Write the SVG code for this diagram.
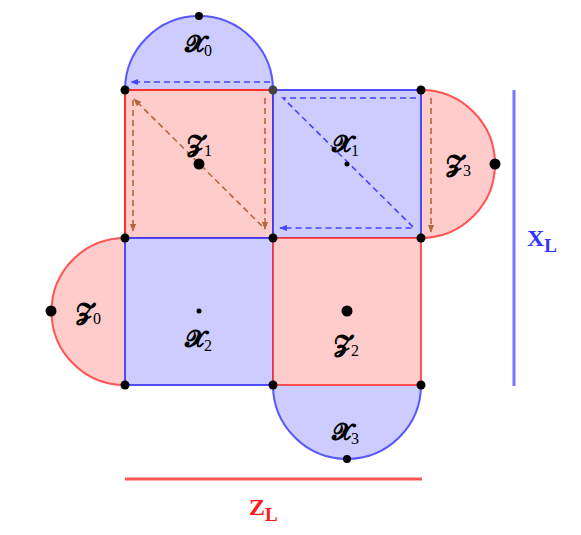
<svg xmlns="http://www.w3.org/2000/svg" width="581" height="535" viewBox="0 0 581 535">
<style>
.rf{fill:#ffcccc}
.bf{fill:#ccccff}
.rs{stroke:#ff2e2e;stroke-width:2;fill:none}
.bs{stroke:#3333ff;stroke-width:2;fill:none}
.dot{fill:#000}
.lbl{font-family:"DejaVu Serif","Liberation Serif",serif;font-size:24px;font-weight:bold;fill:#000}
.sub{font-family:"Liberation Serif",serif;font-size:16px;font-weight:normal}
.bd{stroke:#4444ff;stroke-width:1.6;stroke-dasharray:6,4;fill:none}
.br{stroke:#b5673c;stroke-width:1.6;stroke-dasharray:6,4;fill:none}
.lt{font-family:"Liberation Serif",serif;font-weight:bold;font-size:24px}
</style>
<defs>
<marker id="ab" viewBox="0 0 10 10" refX="9" refY="5" markerWidth="8" markerHeight="8" orient="auto" markerUnits="userSpaceOnUse"><path d="M0,1 L10,5 L0,9 Z" fill="#4444ff"/></marker>
<marker id="ar" viewBox="0 0 10 10" refX="9" refY="5" markerWidth="8" markerHeight="8" orient="auto" markerUnits="userSpaceOnUse"><path d="M0,1 L10,5 L0,9 Z" fill="#b5673c"/></marker>
</defs>
<g id="X0"><path d="M125,90 A74,74 0 0 1 273,90 Z" class="bf"/><path d="M125,90 A74,74 0 0 1 273,90" class="bs" stroke-opacity="0.8"/></g>
<g id="Z3"><path d="M421,90 A74,74 0 0 1 421,238 Z" class="rf"/><path d="M421,90 A74,74 0 0 1 421,238" class="rs" stroke-opacity="0.8"/></g>
<g id="Z0"><path d="M125,238 A73.5,73.5 0 0 0 125,385 Z" class="rf"/><path d="M125,238 A73.5,73.5 0 0 0 125,385" class="rs" stroke-opacity="0.8"/></g>
<g id="X3"><path d="M273,385 A74,74 0 0 0 421,385 Z" class="bf"/><path d="M273,385 A74,74 0 0 0 421,385" class="bs" stroke-opacity="0.8"/></g>
<g id="Z1"><rect x="125" y="90" width="148" height="148" class="rf"/><rect x="125" y="90" width="148" height="148" class="rs"/></g>
<g id="X1"><rect x="273" y="90" width="148" height="148" class="bf"/><rect x="273" y="90" width="148" height="148" class="bs" stroke-opacity="0.85"/></g>
<g id="X2"><rect x="125" y="238" width="148" height="147" class="bf"/><rect x="125" y="238" width="148" height="147" class="bs" stroke-opacity="0.85"/></g>
<g id="Z2"><rect x="273" y="238" width="148" height="147" class="rf"/><rect x="273" y="238" width="148" height="147" class="rs" stroke-opacity="0.8"/></g>
<g id="connectors">
<path d="M270,82 L131,82" class="bd" marker-end="url(#ab)"/>
<path d="M416,98 L283,98 L414,228 L280,228" class="bd" marker-end="url(#ab)"/>
<path d="M265,98 L265,229" class="br" marker-end="url(#ar)"/>
<path d="M262,226 L134,99" class="br" marker-end="url(#ar)"/>
<path d="M133,100 L133,231" class="br" marker-end="url(#ar)"/>
<path d="M431,98 L431,232" class="br" marker-end="url(#ar)"/>
</g>
<g id="dots">
<circle cx="125" cy="90" r="4.5" class="dot"/>
<circle cx="273" cy="90" r="4.5" fill="#444"/>
<circle cx="421" cy="90" r="4.5" class="dot"/>
<circle cx="125" cy="238" r="4.5" class="dot"/>
<circle cx="273" cy="238" r="4.5" class="dot"/>
<circle cx="421" cy="238" r="4.5" class="dot"/>
<circle cx="125" cy="385" r="4.5" class="dot"/>
<circle cx="273" cy="385" r="4.5" class="dot"/>
<circle cx="421" cy="385" r="4.5" class="dot"/>
<circle cx="199" cy="16" r="4" class="dot"/>
<circle cx="495" cy="164" r="5.5" class="dot"/>
<circle cx="51" cy="311" r="5.5" class="dot"/>
<circle cx="347" cy="459" r="4" class="dot"/>
<circle cx="199" cy="164" r="5.5" class="dot"/>
<circle cx="347" cy="311" r="5.5" class="dot"/>
<circle cx="347" cy="164" r="2.5" class="dot"/>
<circle cx="199" cy="311" r="2.5" class="dot"/>
</g>
<g id="labels">
<text x="185" y="52" class="lbl">𝓧<tspan class="sub" dy="4">0</tspan></text>
<text x="187" y="152" class="lbl">𝓩<tspan class="sub" dy="4">1</tspan></text>
<text x="332" y="152" class="lbl">𝓧<tspan class="sub" dy="4">1</tspan></text>
<text x="446" y="172" class="lbl">𝓩<tspan class="sub" dy="4">3</tspan></text>
<text x="76" y="320" class="lbl">𝓩<tspan class="sub" dy="4">0</tspan></text>
<text x="185" y="347" class="lbl">𝓧<tspan class="sub" dy="4">2</tspan></text>
<text x="334" y="352" class="lbl">𝓩<tspan class="sub" dy="4">2</tspan></text>
<text x="332" y="440" class="lbl">𝓧<tspan class="sub" dy="4">3</tspan></text>
</g>
<g id="XL"><line x1="514" y1="90" x2="514" y2="386" stroke="#7777ff" stroke-width="3"/><text x="527" y="246" class="lt" fill="#3333ff">X<tspan font-size="19" dy="6">L</tspan></text></g>
<g id="ZL"><line x1="125" y1="479" x2="422" y2="479" stroke="#ff5555" stroke-width="3"/><text x="249" y="515" class="lt" fill="#ff1a1a">Z<tspan font-size="19" dy="6">L</tspan></text></g>
</svg>
